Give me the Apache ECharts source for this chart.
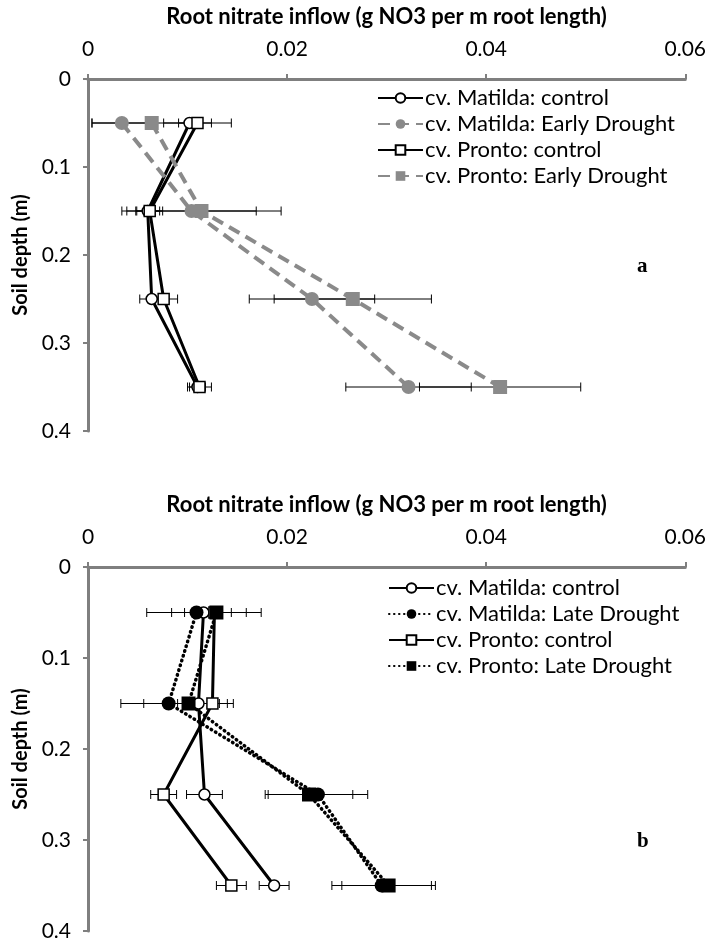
<!DOCTYPE html>
<html>
<head>
<meta charset="utf-8">
<script src="https://cdn.jsdelivr.net/npm/echarts@6/dist/echarts.min.js"></script>
<style>
html,body{margin:0;padding:0;background:#fff;}
#chart{width:709px;height:942px;}
</style>
</head>
<body>
<div id="chart"></div>
<script>
// ---- Data ----
const depths = [0.05, 0.15, 0.25, 0.35];
const xTicks = [0, 0.02, 0.04, 0.06];
const yTicks = [0, 0.1, 0.2, 0.3, 0.4];
const xAxisTitle = 'Root nitrate inflow (g NO3 per m root length)';
const yAxisTitle = 'Soil depth (m)';

// Panel a
const namesA = ['cv. Matilda: control', 'cv. Matilda: Early Drought', 'cv. Pronto: control', 'cv. Pronto: Early Drought'];
const matildaControlA = [0.0102, 0.0060, 0.0064, 0.0110];
const matildaControlAErr = [0.0011, 0.0012, 0.0012, 0.0008];
const matildaEarlyA = [0.0034, 0.0104, 0.0225, 0.0322];
const matildaEarlyAErr = [0.0030, 0.0065, 0.0063, 0.0063];
const prontoControlA = [0.0110, 0.0062, 0.0076, 0.0112];
const prontoControlAErr = [0.0034, 0.0013, 0.0014, 0.0012];
const prontoEarlyA = [0.0064, 0.0114, 0.0266, 0.0414];
const prontoEarlyAErr = [0.0060, 0.0080, 0.0079, 0.0081];

// Panel b
const namesB = ['cv. Matilda: control', 'cv. Matilda: Late Drought', 'cv. Pronto: control', 'cv. Pronto: Late Drought'];
const matildaControlB = [0.0116, 0.0111, 0.0117, 0.0187];
const matildaControlBErr = [0.0019, 0.0021, 0.0018, 0.0015];
const matildaLateB = [0.0109, 0.0081, 0.0231, 0.0295];
const matildaLateBErr = [0.0050, 0.0048, 0.0050, 0.0050];
const prontoControlB = [0.0127, 0.0125, 0.0076, 0.0144];
const prontoControlBErr = [0.0017, 0.0015, 0.0013, 0.0015];
const prontoLateB = [0.0129, 0.0101, 0.0222, 0.0302];
const prontoLateBErr = [0.0045, 0.0045, 0.0044, 0.0047];

// ---- Styles ----
const FONT = 'Lato';
const AXIS_GRAY = '#7f7f7f';
const GRAY = '#8a8a8a';

const chart = echarts.init(document.getElementById('chart'));

function pairs(vals) { return vals.map((v, i) => [v, depths[i]]); }
function errData(vals, errs) { return vals.map((v, i) => [v - errs[i], depths[i], v + errs[i]]); }

function errSeries(vals, errs, idx) {
  return {
    type: 'custom',
    xAxisIndex: idx, yAxisIndex: idx,
    silent: true,
    z: 3,
    encode: { x: [0, 2], y: 1 },
    data: errData(vals, errs),
    renderItem: function (params, api) {
      const a = api.coord([api.value(0), api.value(1)]);
      const b = api.coord([api.value(2), api.value(1)]);
      const h = 4.5;
      const st = { stroke: '#000', lineWidth: 1 };
      return {
        type: 'group',
        children: [
          { type: 'line', shape: { x1: a[0], y1: a[1], x2: b[0], y2: b[1] }, style: st },
          { type: 'line', shape: { x1: a[0], y1: a[1] - h, x2: a[0], y2: a[1] + h }, style: st },
          { type: 'line', shape: { x1: b[0], y1: b[1] - h, x2: b[0], y2: b[1] + h }, style: st }
        ]
      };
    }
  };
}

function lineSeries(name, vals, idx, opts) {
  return Object.assign({
    name: name,
    type: 'line',
    xAxisIndex: idx, yAxisIndex: idx,
    data: pairs(vals),
    z: 4,
    animation: false
  }, opts);
}

const openCircle = { symbol: 'circle', symbolSize: 11, itemStyle: { color: '#fff', borderColor: '#000', borderWidth: 1.5 }, lineStyle: { color: '#000', width: 3, type: 'solid' } };
const openSquare = { symbol: 'rect', symbolSize: 11, itemStyle: { color: '#fff', borderColor: '#000', borderWidth: 1.5 }, lineStyle: { color: '#000', width: 3, type: 'solid' } };
const grayCircle = { symbol: 'circle', symbolSize: 14, itemStyle: { color: GRAY, borderColor: GRAY, borderWidth: 0 }, lineStyle: { color: GRAY, width: 4, type: [12, 7] } };
const graySquare = { symbol: 'rect', symbolSize: 14, itemStyle: { color: GRAY, borderColor: GRAY, borderWidth: 0 }, lineStyle: { color: GRAY, width: 4, type: [12, 7] } };
const blackCircle = { symbol: 'circle', symbolSize: 14, itemStyle: { color: '#000', borderColor: '#000', borderWidth: 0 }, lineStyle: { color: '#000', width: 3.5, type: [0.5, 4.5], cap: 'round' } };
const blackSquare = { symbol: 'rect', symbolSize: 14, itemStyle: { color: '#000', borderColor: '#000', borderWidth: 0 }, lineStyle: { color: '#000', width: 3.5, type: [0.5, 4.5], cap: 'round' } };

function xAxisCfg(idx) {
  return {
    gridIndex: idx, type: 'value', position: 'top',
    min: 0, max: 0.06, interval: 0.02,
    name: xAxisTitle, nameLocation: 'middle', nameGap: 51,
    nameTextStyle: { fontFamily: FONT, fontWeight: 'bold', fontSize: 22, color: '#000' },
    axisLine: { show: true, lineStyle: { color: AXIS_GRAY, width: 3 } },
    axisTick: { show: true, length: 5, lineStyle: { color: AXIS_GRAY, width: 2 } },
    axisLabel: { fontFamily: FONT, fontSize: 21, color: '#000', margin: 19,
      formatter: v => { const t = xTicks.find(x => Math.abs(x - v) < 1e-9); return t === undefined ? '' : String(t); } },
    splitLine: { show: false }
  };
}
function yAxisCfg(idx) {
  return {
    gridIndex: idx, type: 'value', inverse: true,
    min: 0, max: 0.4, interval: 0.1,
    name: yAxisTitle, nameLocation: 'middle', nameGap: 55, nameRotate: 90,
    nameTextStyle: { fontFamily: FONT, fontWeight: 'bold', fontSize: 20, color: '#000' },
    axisLine: { show: true, lineStyle: { color: AXIS_GRAY, width: 3 } },
    axisTick: { show: true, length: 5, lineStyle: { color: AXIS_GRAY, width: 2 } },
    axisLabel: { fontFamily: FONT, fontSize: 21, color: '#000', margin: 17,
      formatter: v => { const t = yTicks.find(x => Math.abs(x - v) < 1e-9); return t === undefined ? '' : String(t); } },
    splitLine: { show: false }
  };
}

const legendCommon = {
  orient: 'vertical', itemWidth: 45, itemHeight: 12, itemGap: 4, padding: 0,
  textStyle: { fontFamily: FONT, fontSize: 22, color: '#000', padding: [0, 0, 0, -3] },
  selectedMode: false
};

const option = {
  backgroundColor: '#fff',
  animation: false,
  grid: [
    { left: 88, top: 79, width: 598, height: 352 },
    { left: 88, top: 567, width: 598, height: 364 }
  ],
  xAxis: [xAxisCfg(0), xAxisCfg(1)],
  yAxis: [yAxisCfg(0), yAxisCfg(1)],
  legend: [
    Object.assign({ left: 377, top: 87, data: namesA }, legendCommon),
    Object.assign({ left: 388, top: 577, data: namesB.map(n => ({ name: n + ' ' })) }, legendCommon)
  ],
  graphic: [
    { type: 'text', left: 637, top: 256, style: { text: 'a', font: 'bold 21px "Liberation Serif"', fill: '#000' } },
    { type: 'text', left: 637, top: 831, style: { text: 'b', font: 'bold 21px "Liberation Serif"', fill: '#000' } }
  ],
  series: [
    errSeries(matildaControlA, matildaControlAErr, 0),
    errSeries(matildaEarlyA, matildaEarlyAErr, 0),
    errSeries(prontoControlA, prontoControlAErr, 0),
    errSeries(prontoEarlyA, prontoEarlyAErr, 0),
    lineSeries(namesA[0], matildaControlA, 0, openCircle),
    lineSeries(namesA[1], matildaEarlyA, 0, grayCircle),
    lineSeries(namesA[2], prontoControlA, 0, openSquare),
    lineSeries(namesA[3], prontoEarlyA, 0, graySquare),

    errSeries(matildaControlB, matildaControlBErr, 1),
    errSeries(matildaLateB, matildaLateBErr, 1),
    errSeries(prontoControlB, prontoControlBErr, 1),
    errSeries(prontoLateB, prontoLateBErr, 1),
    lineSeries(namesB[0] + ' ', matildaControlB, 1, openCircle),
    lineSeries(namesB[1] + ' ', matildaLateB, 1, blackCircle),
    lineSeries(namesB[2] + ' ', prontoControlB, 1, openSquare),
    lineSeries(namesB[3] + ' ', prontoLateB, 1, blackSquare)
  ]
};
chart.setOption(option);
</script>
</body>
</html>
